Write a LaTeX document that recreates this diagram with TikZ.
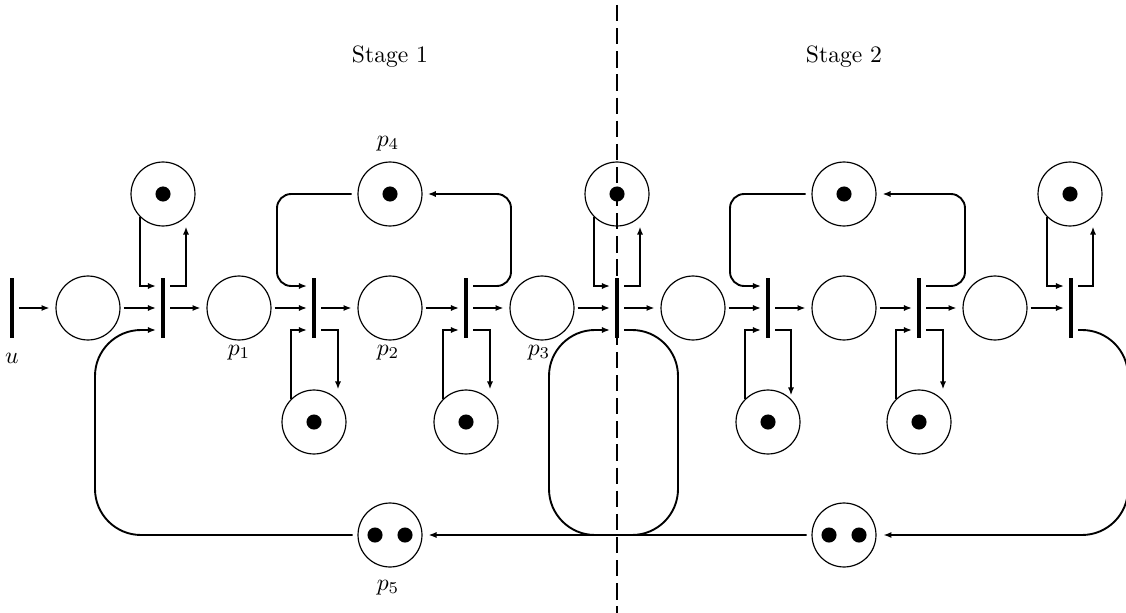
\documentclass[tikz,border=0pt]{standalone}
\usetikzlibrary{arrows.meta,calc}
\begin{document}
\begin{tikzpicture}[x=0.4237pt,y=-0.4237pt,
  pplace/.style={circle,draw,line width=0.5pt,minimum size=27.1pt,inner sep=0pt},
  ttrans/.style={rectangle,minimum width=5.93pt,minimum height=18.64pt,inner sep=0pt,outer sep=0pt},
  tbar/.style={line width=1.3pt},
  pnarc/.style={line width=1pt,-{Latex[length=3.4pt,width=2.6pt]}},
  looparc/.style={line width=0.8pt,-{Latex[length=3.4pt,width=2.6pt]}},
  divider/.style={line width=1.1pt,dash pattern=on 6.9pt off 2.9pt},
  lbl/.style={anchor=base,inner sep=0pt}]
\useasboundingbox (0,0) rectangle (1126,613);

% stage divider
\draw[divider] (617,5) -- (617,613);

% main row
\node[ttrans] (u)  at (12,308) {};
\node[pplace] (A)  at (88,308) {};
\node[ttrans] (T1) at (163,308) {};
\node[pplace] (p1) at (239,308) {};
\node[ttrans] (T2) at (314,308) {};
\node[pplace] (p2) at (390,308) {};
\node[ttrans] (T3) at (466,308) {};
\node[pplace] (p3) at (542,308) {};
\node[ttrans] (T4) at (617,308) {};
\node[pplace] (B)  at (693,308) {};
\node[ttrans] (T5) at (768,308) {};
\node[pplace] (C)  at (844,308) {};
\node[ttrans] (T6) at (919,308) {};
\node[pplace] (D)  at (995,308) {};
\node[ttrans] (T7) at (1071,308) {};

% top places
\node[pplace] (Q1)  at (163,194) {};
\node[pplace] (p4)  at (390,194) {};
\node[pplace] (Q3)  at (617,194) {};
\node[pplace] (p4b) at (844,194) {};
\node[pplace] (Q7)  at (1070,194) {};

% bottom places
\node[pplace] (R1) at (314,422) {};
\node[pplace] (R2) at (466,422) {};
\node[pplace] (R3) at (768,422) {};
\node[pplace] (R4) at (919,422) {};
\node[pplace] (p5)  at (390,535) {};
\node[pplace] (p5b) at (844,535) {};

% tokens
\foreach \p in {Q1,p4,Q3,p4b,Q7,R1,R2,R3,R4}
  \fill (\p.center) circle[radius=3.2pt];
\foreach \p in {p5,p5b}{
  \fill ($(\p.center)+(-15,0)$) circle[radius=3.2pt];
  \fill ($(\p.center)+(15,0)$) circle[radius=3.2pt];
}

% transition bars
\foreach \t in {u,T1,T2,T3,T4,T5,T6,T7}
  \draw[tbar] ([yshift=3.39pt]\t.north) -- ([yshift=-3.39pt]\t.south);

% main row arcs
\draw[pnarc,shorten >=2.5pt] (u) -- (A);
\foreach \a/\b in {A/T1,p1/T2,p2/T3,p3/T4,B/T5,C/T6,D/T7}
  \draw[pnarc,shorten <=1.3pt] (\a) -- (\b);
\foreach \a/\b in {T1/p1,T2/p2,T3/p3,T4/B,T5/C,T6/D}
  \draw[pnarc,shorten >=2.5pt] (\a) -- (\b);

% self loops with top places
\foreach \q/\t in {Q1/T1,Q3/T4,Q7/T7}{
  \draw[pnarc] (\q.south west) |- (\t.north west);
  \draw[pnarc] (\t.north east) -| ($(\q.south)+(23,0)$);
}

% self loops with bottom places
\foreach \r/\t in {R1/T2,R2/T3,R4/T6}{
  \draw[pnarc] (\r.north west) |- (\t.south west);
  \draw[pnarc] (\t.south east) -| ($(\r.north)+(24,0)$);
}
\draw[pnarc] (R3.north west) |- (T5.south west);
\draw[pnarc] (T5.south east) -| ($(R3.north)+(23,6)$);

% p4 loops
\draw[looparc,rounded corners=6pt,shorten <=2.5pt] (p4.west) -- (277,194) -- (277,286) -- (T2.north west);
\draw[looparc,rounded corners=6pt,shorten >=2.2pt] (T3.north east) -- (511,286) -- (511,194) -- (p4.east);
\draw[looparc,rounded corners=6pt,shorten <=2.5pt] (p4b.west) -- (730,194) -- (730,286) -- (T5.north west);
\draw[looparc,rounded corners=6pt,shorten >=2.5pt] (T6.north east) -- (965,286) -- (965,194) -- (p4b.east);

% p5 loops
\draw[looparc,rounded corners=19.5pt,shorten <=2pt] (p5.west) -- (95,535) -- (95,330) -- (T1.south west);
\draw[looparc,rounded corners=19.5pt,shorten >=2.5pt] (T4.south east) -- (678,330) -- (678,535) -- (p5.east);
\draw[looparc,rounded corners=19.5pt,shorten <=2pt] (p5b.west) -- (549,535) -- (549,330) -- (T4.south west);
\draw[looparc,rounded corners=19.5pt,shorten >=2.9pt] (T7.south east) -- (1128,330) -- (1128,535) -- (p5b.east);

% labels
\node[lbl] (lu)  at (12,363) {$u$};
\node[lbl] (lp1) at (239,355) {$p_1$};
\node[lbl] (lp2) at (388,355) {$p_2$};
\node[lbl] (lp3) at (539,355) {$p_3$};
\node[lbl] (lp4) at (388,146) {$p_4$};
\node[lbl] (lp5) at (388,590) {$p_5$};
\node[lbl] (s1) at (390,63) {Stage 1};
\node[lbl] (s2) at (844,63) {Stage 2};
\end{tikzpicture}
\end{document}
